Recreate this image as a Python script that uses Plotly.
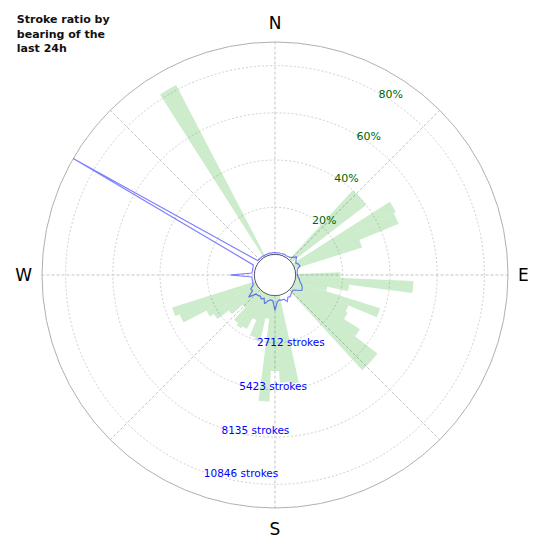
import plotly.graph_objects as go

# bearings of the 5 degree bins (centre of each bin)
bearings = list(range(0, 360, 5))

# share of strokes per bearing, in percent (green bars)
ratio_pct = [
    0, 0, 0, 0, 0, 0, 0, 0, 0, 40,      # 0-45
    40, 0, 49, 48, 30, 0, 0, 0, 19, 50,  # 50-95
    23, 14, 38, 25, 26, 34, 46, 46, 0, 0,  # 100-145
    0, 0, 0, 0, 38, 37, 32, 45, 10, 20,  # 150-195
    19, 12, 17, 18, 17, 10, 16, 22, 24, 35,  # 200-245
    37, 0, 0, 0, 0, 0, 0, 0, 0, 0,       # 250-295
    0, 0, 0, 0, 0, 0, 82, 0, 0, 0,       # 300-345
    0, 0,                                # 350-355
]

# number of strokes per bearing (blue line)
strokes = [
    110, 100, 120, 100, 110, 130, 100, 120, 150, 250,    # 0-45
    430, 300, 200, 300, 350, 150, 120, 100, 120, 150,    # 50-95
    250, 300, 450, 550, 600, 350, 180, 200, 250, 340,    # 100-145
    300, 500, 300, 310, 270, 350, 850, 300, 270, 350,    # 150-195
    580, 300, 400, 300, 350, 370, 800, 400, 430, 200,    # 200-245
    180, 150, 160, 150, 1400, 150, 140, 150, 160, 200,   # 250-295
    12200, 1100, 100, 110, 100, 120, 100, 110, 100, 120, # 300-345
    100, 110,                                            # 350-355
]

pct_ticks = [20, 40, 60, 80]
stroke_ticks = [2712, 5423, 8135, 10846]
compass = ["N", "", "E", "", "S", "", "W", ""]

# the page body adds an 8px offset, so the domain is shifted to compensate
dom_x = [0.0618, 0.9091]
dom_y = [0.0909, 0.9382]
hole = 0.088

fig = go.Figure()

fig.add_trace(go.Barpolar(
    r=ratio_pct,
    theta=bearings,
    width=5,
    marker=dict(color="rgba(0,160,0,0.2)", line=dict(width=0)),
    subplot="polar",
))

fig.add_trace(go.Scatterpolar(
    r=strokes + strokes[:1],
    theta=bearings + bearings[:1],
    mode="lines",
    line=dict(color="rgba(0,0,255,0.5)", width=1.2),
    cliponaxis=False,
    subplot="polar2",
))

# edge of the centre hole
fig.add_trace(go.Scatterpolar(
    r=[0] * (len(bearings) + 1),
    theta=bearings + bearings[:1],
    mode="lines",
    line=dict(color="#222244", width=1),
    cliponaxis=False,
    subplot="polar2",
))

fig.update_layout(
    width=550,
    height=550,
    margin=dict(l=0, r=0, t=0, b=0),
    paper_bgcolor="white",
    showlegend=False,
    font=dict(family="DejaVu Sans", color="black"),
    title=dict(
        text="<b>Stroke ratio by<br>bearing of the<br>last 24h</b>",
        x=0.016,
        xanchor="left",
        y=0.972,
        yanchor="top",
        font=dict(family="DejaVu Sans", size=11, color="#111"),
    ),
    polar=dict(
        domain=dict(x=dom_x, y=dom_y),
        hole=hole,
        bgcolor="white",
        angularaxis=dict(
            direction="clockwise",
            rotation=90,
            tickvals=list(range(0, 360, 45)),
            ticktext=compass,
            tickfont=dict(size=17, color="black"),
            ticks="outside",
            ticklen=6,
            tickcolor="rgba(0,0,0,0)",
            showline=True,
            linecolor="#b0b0b0",
            linewidth=1,
            gridcolor="#c4c4c4",
            griddash="3px,2px",
            gridwidth=0.7,
        ),
        radialaxis=dict(
            range=[0, 90],
            tickvals=pct_ticks,
            ticktext=[f"{v}%" for v in pct_ticks],
            tickfont=dict(size=11, color="darkgreen"),
            angle=62,
            tickangle=62,
            showline=False,
            ticks="",
            gridcolor="#d0d0d0",
            griddash="2px,2px",
        ),
    ),
    polar2=dict(
        domain=dict(x=dom_x, y=dom_y),
        hole=hole,
        bgcolor="rgba(0,0,0,0)",
        angularaxis=dict(
            direction="clockwise",
            rotation=90,
            showline=False,
            showgrid=False,
            showticklabels=False,
            ticks="",
        ),
        radialaxis=dict(
            range=[0, 12200],
            tickvals=stroke_ticks,
            ticktext=[f"{v} strokes" for v in stroke_ticks],
            tickfont=dict(size=10.5, color="blue"),
            angle=-112,
            tickangle=-112,
            side="counterclockwise",
            showline=False,
            showgrid=False,
            ticks="",
        ),
    ),
)

fig.write_html("out.html")
